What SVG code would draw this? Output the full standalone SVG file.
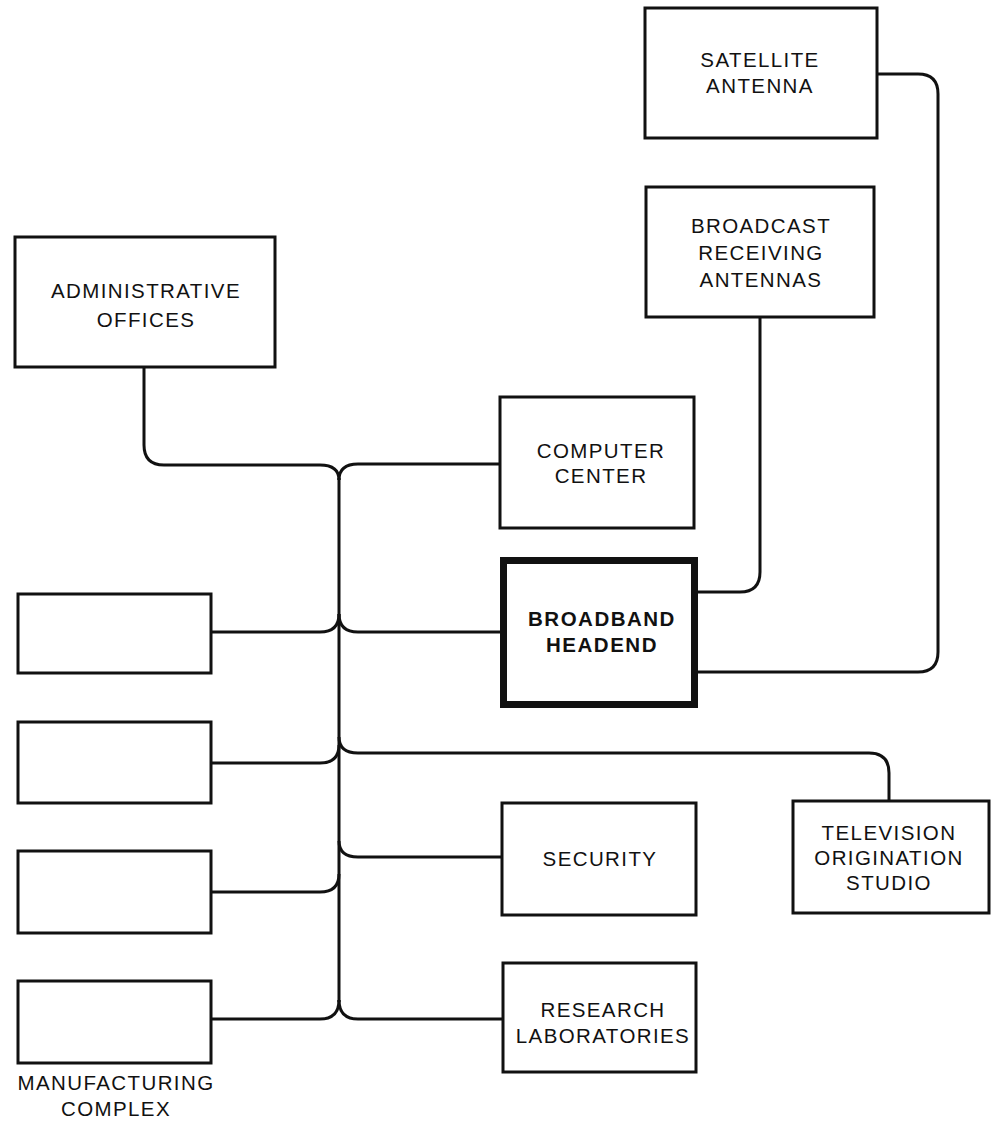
<svg xmlns="http://www.w3.org/2000/svg" width="996" height="1126" viewBox="0 0 996 1126">
  <style>
    .box { fill: #ffffff; stroke: #111111; stroke-width: 3; }
    .hub { fill: #ffffff; stroke: #111111; stroke-width: 7; }
    .wire { fill: none; stroke: #111111; stroke-width: 3; stroke-linejoin: round; stroke-linecap: butt; }
    .lbl { font-family: "Liberation Sans", Arial, Helvetica, sans-serif; font-size: 20.5px; letter-spacing: 1.4px; fill: #111111; text-anchor: middle; }
    .bold { font-weight: bold; letter-spacing: 1.5px; }
  </style>
  <rect width="996" height="1126" fill="#ffffff"/>

  <!-- cable runs -->
  <g id="connectors">
    <path class="wire" d="M144,367 V445 Q144,465 164,465 H320 Q339,465 339,480"/>
    <path class="wire" d="M339,480 Q339,464 358,464 H500"/>
    <path class="wire" d="M339,478 V1002"/>
    <path class="wire" d="M211,632 H320 Q339,632 339,614"/>
    <path class="wire" d="M339,614 Q339,632 358,632 H503"/>
    <path class="wire" d="M211,763 H320 Q339,763 339,745"/>
    <path class="wire" d="M339,737 Q339,753 358,753 H869 Q889,753 889,773 V801"/>
    <path class="wire" d="M339,841 Q339,857 358,857 H502"/>
    <path class="wire" d="M211,892 H320 Q339,892 339,874"/>
    <path class="wire" d="M211,1019 H320 Q339,1019 339,1000"/>
    <path class="wire" d="M339,1000 Q339,1019 358,1019 H503"/>
    <path class="wire" d="M760,317 V572 Q760,592 740,592 H698"/>
    <path class="wire" d="M877,74 H918 Q938,74 938,94 V652 Q938,672 918,672 H698"/>
  </g>

  <g id="satellite-antenna">
    <rect class="box" x="645" y="8" width="232" height="130"/>
    <text class="lbl" x="760" y="67">SATELLITE</text>
    <text class="lbl" x="760" y="93">ANTENNA</text>
  </g>

  <g id="broadcast-receiving-antennas">
    <rect class="box" x="646" y="187" width="228" height="130"/>
    <text class="lbl" x="761" y="233">BROADCAST</text>
    <text class="lbl" x="761" y="260">RECEIVING</text>
    <text class="lbl" x="761" y="287">ANTENNAS</text>
  </g>

  <g id="administrative-offices">
    <rect class="box" x="15" y="237" width="260" height="130"/>
    <text class="lbl" x="146" y="298">ADMINISTRATIVE</text>
    <text class="lbl" x="146" y="327">OFFICES</text>
  </g>

  <g id="computer-center">
    <rect class="box" x="500" y="397" width="194" height="131"/>
    <text class="lbl" x="601" y="458">COMPUTER</text>
    <text class="lbl" x="601" y="483">CENTER</text>
  </g>

  <g id="broadband-headend">
    <rect class="hub" x="503.5" y="560.5" width="191" height="144"/>
    <text class="lbl bold" x="602" y="626">BROADBAND</text>
    <text class="lbl bold" x="602" y="652">HEADEND</text>
  </g>

  <g id="television-origination-studio">
    <rect class="box" x="793" y="801" width="196" height="112"/>
    <text class="lbl" x="889" y="840">TELEVISION</text>
    <text class="lbl" x="889" y="865">ORIGINATION</text>
    <text class="lbl" x="889" y="890">STUDIO</text>
  </g>

  <g id="security">
    <rect class="box" x="502" y="803" width="194" height="112"/>
    <text class="lbl" x="600" y="866">SECURITY</text>
  </g>

  <g id="research-laboratories">
    <rect class="box" x="503" y="963" width="193" height="109"/>
    <text class="lbl" x="603" y="1017">RESEARCH</text>
    <text class="lbl" x="603" y="1043">LABORATORIES</text>
  </g>

  <g id="manufacturing-1">
    <rect class="box" x="18" y="594" width="193" height="79"/>
  </g>
  <g id="manufacturing-2">
    <rect class="box" x="18" y="722" width="193" height="81"/>
  </g>
  <g id="manufacturing-3">
    <rect class="box" x="18" y="851" width="193" height="82"/>
  </g>
  <g id="manufacturing-4">
    <rect class="box" x="18" y="981" width="193" height="82"/>
  </g>

  <g id="manufacturing-complex-label">
    <text class="lbl" x="116" y="1090">MANUFACTURING</text>
    <text class="lbl" x="116" y="1116">COMPLEX</text>
  </g>
</svg>
